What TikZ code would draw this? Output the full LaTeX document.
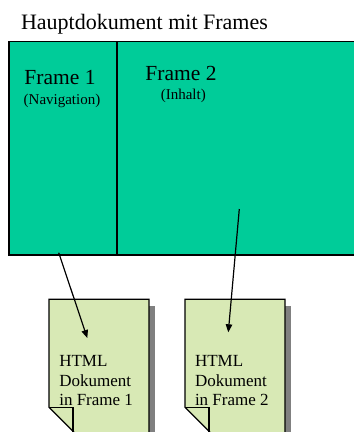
\documentclass[tikz,border=0pt]{standalone}
\usepackage{fontspec}
\setmainfont{Liberation Serif}
\usetikzlibrary{arrows.meta}
\definecolor{framegreen}{RGB}{0,204,153}
\definecolor{docgreen}{RGB}{216,233,181}
\definecolor{docshadow}{RGB}{128,128,128}
\tikzset{
  outline/.style={draw=black, line width=1.2bp},
  label/.style={inner sep=0pt, outer sep=0pt, anchor=base},
  doctext/.style={inner sep=0pt, outer sep=0pt, anchor=base west,
    font=\fontsize{17bp}{19bp}\selectfont},
  link/.style={line width=1.2bp, -{Triangle[length=8bp,width=6.5bp]}},
  htmldoc/.pic={
    % drop shadow only along the right side, page with folded corner, fold flap
    \fill[docshadow] (100,7) rectangle (106,140);
    \filldraw[fill=docgreen, outline] (0,0) -- (100,0) -- (100,134) -- (26,134) -- (0,108) -- cycle;
    \draw[outline] (0,108) -- (24,108) -- (24,134);
  }
}
\begin{document}
\begin{tikzpicture}[x=1bp, y=-1bp]
\useasboundingbox (0,0) rectangle (354,432);
\clip (0,0) rectangle (354,432);

% title
\node[label, anchor=base west, font=\fontsize{22bp}{26bp}\selectfont] (title) at (21,29.3) {Hauptdokument mit Frames};

% main document split into two frames
\filldraw[fill=framegreen, outline] (9,41.7) rectangle (362,255);
\draw[outline] (117,41.7) -- (117,255);

\node[label, font=\fontsize{21.5bp}{24bp}\selectfont] (f1) at (60,84.3) {Frame 1};
\node[label, font=\fontsize{15bp}{17bp}\selectfont] (f1sub) at (62,104.3) {(Navigation)};
\node[label, font=\fontsize{21.5bp}{24bp}\selectfont] (f2) at (181,80) {Frame 2};
\node[label, font=\fontsize{15bp}{17bp}\selectfont] (f2sub) at (183.3,99.3) {(Inhalt)};

% the two HTML documents
\pic at (49,299.3) {htmldoc};
\pic at (185,299.3) {htmldoc};

\node[doctext] (d1a) at (59.3,366.7) {HTML};
\node[doctext] (d1b) at (59.3,386) {Dokument};
\node[doctext] (d1c) at (59.3,405) {in Frame 1};
\node[doctext] (d2a) at (195,366.7) {HTML};
\node[doctext] (d2b) at (195,386) {Dokument};
\node[doctext] (d2c) at (195,405) {in Frame 2};

% connectors from each frame into its document
\coordinate (a1s) at (58.7,252.7);
\coordinate (a1e) at (87.3,338);
\coordinate (a2s) at (239.3,209);
\coordinate (a2e) at (228.3,332.3);
\draw[link] (a1s) -- (a1e);
\draw[link] (a2s) -- (a2e);
\end{tikzpicture}
\end{document}
